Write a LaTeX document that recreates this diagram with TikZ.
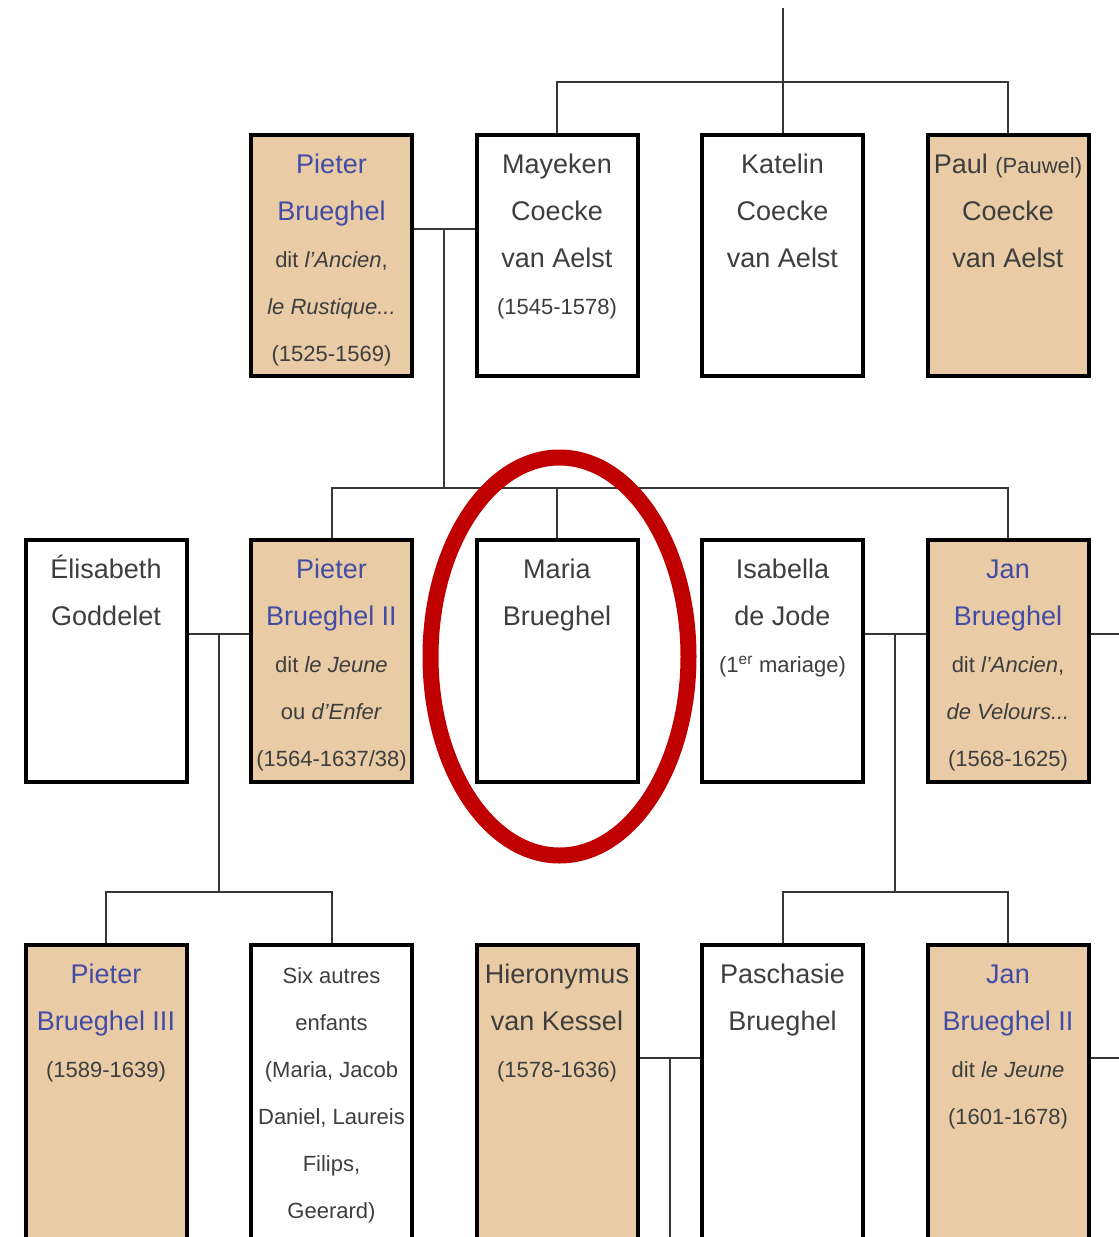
\documentclass[tikz,border=0pt]{standalone}
\usepackage{fontspec}
\setmainfont{Liberation Sans}
\usepackage{tikz}
\usetikzlibrary{positioning}
\usepackage{xcolor}

\definecolor{tan}{RGB}{233,203,166}
\definecolor{texte}{RGB}{62,62,62}
\definecolor{lienc}{RGB}{66,76,165}
\definecolor{traitc}{RGB}{55,55,55}
\definecolor{rouge}{RGB}{192,0,0}

\newcommand{\fiche}[2][242pt]{\parbox[c][#1][t]{161pt}{\centering\fontsize{27}{47}\selectfont\rule{0pt}{38pt}#2}}
\newcommand{\petit}{\fontsize{22}{47}\selectfont}
\newcommand{\lien}[1]{\textcolor{lienc}{#1}}

\begin{document}
\begin{tikzpicture}[node distance=160pt and 60.5pt,
    personne/.style={draw=black,line width=4pt,inner sep=0pt,text=texte,fill=white},
    peintre/.style={personne,fill=tan}]
          \useasboundingbox (0,0) rectangle (1119pt,-1237pt);
          \clip (0,0) rectangle (1119pt,-1237pt);
          \coordinate (bord) at (1119pt,0);
          \coordinate (bas)  at (0,-1237pt);

          % premiere generation
          \node[peintre]    (pb)      at (331.5pt,-255.5pt) {\fiche[241pt]{\lien{Pieter}\\\lien{Brueghel}\\{\petit dit \textit{l'Ancien},}\\{\petit\textit{le Rustique...}}\\{\petit(1525-1569)}}};
          \node[personne]   (mayeken) [right =of pb]      {\fiche[241pt]{Mayeken\\Coecke\\van Aelst\\{\petit(1545-1578)}}};
          \node[personne]   (katelin) [right =of mayeken] {\fiche[241pt]{Katelin\\Coecke\\van Aelst}};
          \node[peintre]    (paul)    [right =of katelin] {\fiche[241pt]{Paul {\petit(Pauwel)}\\Coecke\\van Aelst}};

          % enfants
          \node[peintre]    (pie2)    [below =of pb]      {\fiche{\lien{Pieter}\\\lien{Brueghel II}\\{\petit dit \textit{le Jeune}}\\{\petit ou \textit{d'Enfer}}\\{\petit(1564-1637/38)}}};
          \node[personne]   (eli)     [left =of pie2]     {\fiche{Élisabeth\\Goddelet}};
          \node[personne]   (maria)   [right =of pie2]    {\fiche{Maria\\Brueghel}};
          \node[personne]   (isa)     [right =of maria]   {\fiche{Isabella\\de Jode\\{\petit(1\textsuperscript{er} mariage)}}};
          \node[peintre]    (jan)     [right =of isa]     {\fiche{\lien{Jan}\\\lien{Brueghel}\\{\petit dit \textit{l'Ancien},}\\{\petit\textit{de Velours...}}\\{\petit(1568-1625)}}};

          % petits-enfants
          \node[peintre]    (pie3)    [below =159pt of eli]   {\fiche[320pt]{\lien{Pieter}\\\lien{Brueghel III}\\{\petit(1589-1639)}}};
          \node[personne]   (six)     [below =159pt of pie2]  {\fiche[320pt]{{\petit Six autres}\\{\petit enfants}\\{\petit(Maria, Jacob}\\{\petit Daniel, Laureis}\\{\petit Filips,}\\{\petit Geerard)}}};
          \node[peintre]    (hier)    [below =159pt of maria] {\fiche[320pt]{Hieronymus\\van Kessel\\{\petit(1578-1636)}}};
          \node[personne]   (pasch)   [below =159pt of isa]   {\fiche[320pt]{Paschasie\\Brueghel}};
          \node[peintre]    (jan2)    [below =159pt of jan]   {\fiche[320pt]{\lien{Jan}\\\lien{Brueghel II}\\{\petit dit \textit{le Jeune}}\\{\petit(1601-1678)}}};

          \tikzset{trait/.style={draw=traitc,line width=2pt}}
          % fratrie Coecke
          \draw[trait] (katelin.north |- 0,-8pt) -- (katelin.north);
          \draw[trait] (mayeken.north) -- ++(0,51pt) -| (paul.north);
          % mariages et descendance
          \draw[trait] ([yshift=-96pt]pb.north east) -- coordinate (m1) ([yshift=-96pt]mayeken.north west);
          \draw[trait] (pie2.north) -- ++(0,50pt) coordinate (b1) -| (jan.north);
          \draw[trait] (m1) -- (m1 |- b1);
          \draw[trait] (maria.north) -- (maria.north |- b1);

          \draw[trait] ([yshift=-96pt]eli.north east) -- coordinate (m2) ([yshift=-96pt]pie2.north west);
          \draw[trait] (pie3.north) -- ++(0,51pt) coordinate (b2) -| (six.north);
          \draw[trait] (m2) -- (m2 |- b2);

          \draw[trait] ([yshift=-96pt]isa.north east) -- coordinate (m3) ([yshift=-96pt]jan.north west);
          \draw[trait] (pasch.north) -- ++(0,51pt) coordinate (b3) -| (jan2.north);
          \draw[trait] (m3) -- (m3 |- b3);
          \draw[trait] ([yshift=-96pt]jan.north east) coordinate (j1) -- (j1 -| bord);

          \draw[trait] ([yshift=-115pt]hier.north east) -- coordinate (m4) ([yshift=-115pt]pasch.north west);
          \draw[trait] (m4) -- (m4 |- bas);
          \draw[trait] ([yshift=-115pt]jan2.north east) coordinate (j2) -- (j2 -| bord);

          % Maria
          \draw[rouge,line width=16pt] ([shift={(2.5pt,4.5pt)}]maria.center) ellipse [x radius=129pt, y radius=199pt];
\end{tikzpicture}
\end{document}
